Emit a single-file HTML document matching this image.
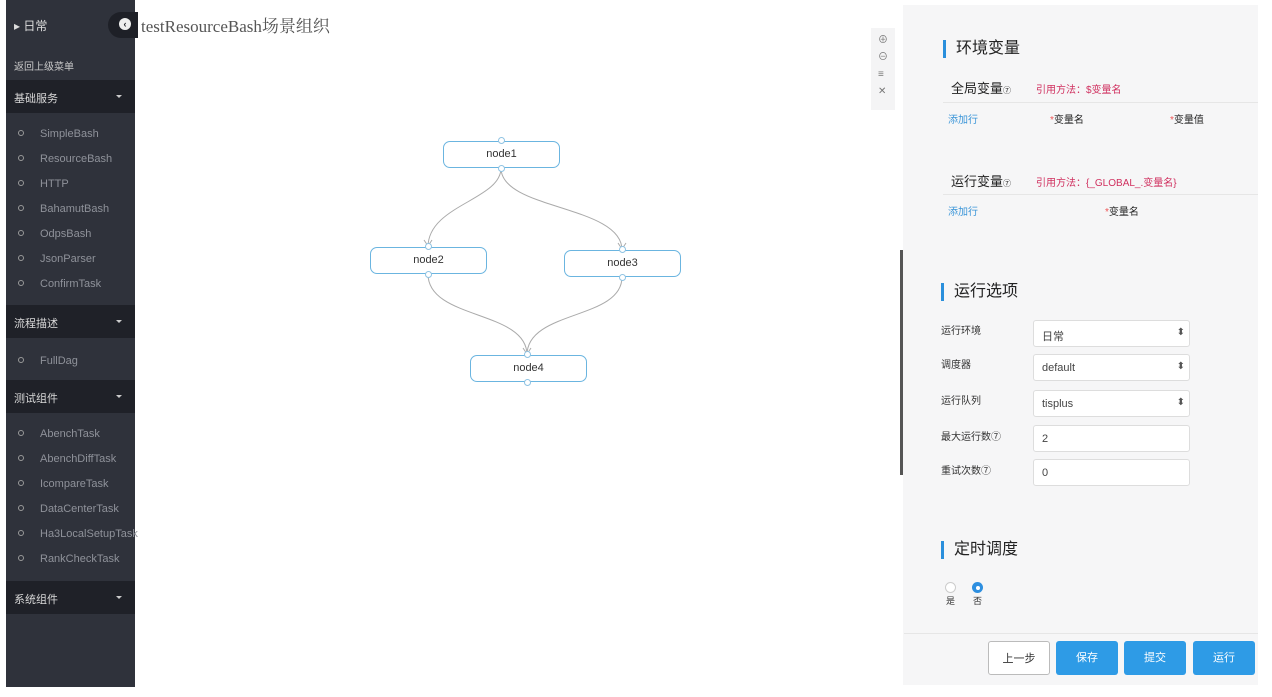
<!DOCTYPE html>
<html><head><meta charset="utf-8"><style>
*{margin:0;padding:0;box-sizing:border-box}
body{width:1272px;height:697px;background:#fff;position:relative;overflow:hidden;font-family:"Liberation Sans","Noto Sans CJK SC",sans-serif}
.a{position:absolute;white-space:nowrap}
.sb{left:6px;top:0;width:129px;height:687px;background:#2f323b}
.hd{left:6px;width:129px;height:33px;background:#1f2128;color:#d8d8d8;font-size:11px;padding:10px 0 0 8px}
.hd:after{content:"";position:absolute;right:13px;top:15px;border:3px solid transparent;border-top:3px solid #ccc}
.it{left:18px;color:#8f929a;font-size:11px}
.it b{display:inline-block;width:6px;height:6px;border:1px solid #999;border-radius:50%;margin-right:16px;vertical-align:1px}
.node{position:absolute;width:117px;height:27px;border:1.5px solid #6bb5e0;border-radius:7px;background:#fff;font-size:11px;text-align:center;line-height:24px;color:#333}
.pt{position:absolute;width:7px;height:7px;border:1px solid #8fc3e3;border-radius:50%;background:#fff}
.panel{left:903px;top:5px;width:355px;height:680px;background:#f6f6f7}
.sec{font-size:16px;color:#222;border-left:3px solid #2a8fdc;padding-left:10px;line-height:18px}
.lbl{font-size:10px;color:#333}
.inp{left:1033px;width:157px;height:27px;border:1px solid #ddd;border-radius:3px;background:#fff;font-size:11px;color:#444;padding:7px 0 0 8px}
.sel:after{content:"⬍";position:absolute;right:4px;top:6px;font-size:10px;color:#555}
.btn{top:641px;width:62px;height:34px;border-radius:3px;background:#2e9be6;color:#fff;font-size:11px;text-align:center;line-height:34px}
</style></head><body>
<div class="a sb"></div>
<div class="a" style="left:14px;top:17px;color:#ddd;font-size:12px">▸ 日常</div>
<div class="a" style="left:108px;top:12px;width:30px;height:26px;background:#1e2027;border-radius:13px 0 0 13px"></div>
<div class="a" style="left:119px;top:18px;width:12px;height:12px;background:#eee;border-radius:50%;color:#1e2027;font-size:9px;line-height:12px;text-align:center;font-weight:bold">‹</div>
<div class="a" style="left:14px;top:58px;color:#c8c8c8;font-size:10px">返回上级菜单</div>
<div class="a hd" style="top:80px">基础服务</div>
<div class="a it" style="top:128px"><b></b>SimpleBash</div>
<div class="a it" style="top:153px"><b></b>ResourceBash</div>
<div class="a it" style="top:178px"><b></b>HTTP</div>
<div class="a it" style="top:203px"><b></b>BahamutBash</div>
<div class="a it" style="top:228px"><b></b>OdpsBash</div>
<div class="a it" style="top:253px"><b></b>JsonParser</div>
<div class="a it" style="top:278px"><b></b>ConfirmTask</div>
<div class="a hd" style="top:305px">流程描述</div>
<div class="a it" style="top:355px"><b></b>FullDag</div>
<div class="a hd" style="top:380px">测试组件</div>
<div class="a it" style="top:428px"><b></b>AbenchTask</div>
<div class="a it" style="top:453px"><b></b>AbenchDiffTask</div>
<div class="a it" style="top:478px"><b></b>IcompareTask</div>
<div class="a it" style="top:503px"><b></b>DataCenterTask</div>
<div class="a it" style="top:528px"><b></b>Ha3LocalSetupTask</div>
<div class="a it" style="top:553px"><b></b>RankCheckTask</div>
<div class="a hd" style="top:581px">系统组件</div>
<div class="a" style="left:141px;top:12px;font-family:'Liberation Serif','Noto Serif CJK SC',serif;font-size:17px;color:#555">testResourceBash场景组织</div>

<svg class="a" style="left:0;top:0" width="900" height="697">
<g fill="none" stroke="#aaa" stroke-width="1">
<path d="M501 168 C501 200 428 205 428 247"/>
<path d="M501 168 C501 210 622 205 622 250"/>
<path d="M428 274 C428 320 527 310 527 355"/>
<path d="M622 277 C622 320 527 310 527 355"/>
<path d="M424 240 L428 246 L432 240 M618 243 L622 249 L626 243 M523 348 L527 354 L531 348"/>
</g></svg>
<div class="node" style="left:443px;top:141px">node1</div>
<div class="node" style="left:370px;top:247px">node2</div>
<div class="node" style="left:564px;top:250px">node3</div>
<div class="node" style="left:470px;top:355px">node4</div>
<div class="pt" style="left:498px;top:137px"></div><div class="pt" style="left:498px;top:165px"></div>
<div class="pt" style="left:425px;top:243px"></div><div class="pt" style="left:425px;top:271px"></div>
<div class="pt" style="left:619px;top:246px"></div><div class="pt" style="left:619px;top:274px"></div>
<div class="pt" style="left:524px;top:351px"></div><div class="pt" style="left:524px;top:379px"></div>

<div class="a" style="left:871px;top:28px;width:24px;height:82px;background:#f4f4f5"></div>
<div class="a" style="left:878px;top:32px;color:#777;font-size:10px;line-height:17px;white-space:normal;width:12px">⊕<br>⊖<br>≡<br>✕</div>
<div class="a panel"></div>
<div class="a" style="left:900px;top:250px;width:3px;height:225px;background:#555"></div>
<div class="a sec" style="left:943px;top:40px">环境变量</div>
<div class="a" style="left:951px;top:78px;font-size:13px;color:#222">全局变量<span style="font-size:8px">⑦</span></div>
<div class="a" style="left:1036px;top:81px;font-size:10px;color:#d0305f">引用方法：$变量名</div>
<div class="a" style="left:943px;top:102px;width:315px;height:1px;background:#e6e6e6"></div>
<div class="a" style="left:948px;top:111px;font-size:10px;color:#3a95d8">添加行</div>
<div class="a" style="left:1050px;top:111px;font-size:10px;color:#222"><span style="color:#e55">*</span>变量名</div>
<div class="a" style="left:1170px;top:111px;font-size:10px;color:#222"><span style="color:#e55">*</span>变量值</div>
<div class="a" style="left:951px;top:171px;font-size:13px;color:#222">运行变量<span style="font-size:8px">⑦</span></div>
<div class="a" style="left:1036px;top:174px;font-size:10px;color:#d0305f">引用方法：{_GLOBAL_.变量名}</div>
<div class="a" style="left:943px;top:194px;width:315px;height:1px;background:#e6e6e6"></div>
<div class="a" style="left:948px;top:203px;font-size:10px;color:#3a95d8">添加行</div>
<div class="a" style="left:1105px;top:203px;font-size:10px;color:#222"><span style="color:#e55">*</span>变量名</div>

<div class="a sec" style="left:941px;top:283px">运行选项</div>
<div class="a lbl" style="left:941px;top:322px">运行环境</div>
<div class="a inp sel" style="top:320px">日常</div>
<div class="a lbl" style="left:941px;top:356px">调度器</div>
<div class="a inp sel" style="top:354px">default</div>
<div class="a lbl" style="left:941px;top:392px">运行队列</div>
<div class="a inp sel" style="top:390px">tisplus</div>
<div class="a lbl" style="left:941px;top:428px">最大运行数⑦</div>
<div class="a inp" style="top:425px">2</div>
<div class="a lbl" style="left:941px;top:462px">重试次数⑦</div>
<div class="a inp" style="top:459px">0</div>

<div class="a sec" style="left:941px;top:541px">定时调度</div>
<div class="a" style="left:945px;top:582px;width:11px;height:11px;border:1px solid #ccc;border-radius:50%;background:#fff"></div>
<div class="a" style="left:972px;top:582px;width:11px;height:11px;border-radius:50%;background:#2e8fe0"><div style="margin:3.5px;width:4px;height:4px;background:#fff;border-radius:50%"></div></div>
<div class="a" style="left:946px;top:594px;font-size:9px;color:#333">是</div>
<div class="a" style="left:973px;top:594px;font-size:9px;color:#333">否</div>
<div class="a" style="left:904px;top:633px;width:354px;height:1px;background:#e6e6e6"></div>
<div class="a btn" style="left:988px;background:#fff;border:1px solid #bbb;color:#333">上一步</div>
<div class="a btn" style="left:1056px">保存</div>
<div class="a btn" style="left:1124px">提交</div>
<div class="a btn" style="left:1193px">运行</div>
</body></html>
